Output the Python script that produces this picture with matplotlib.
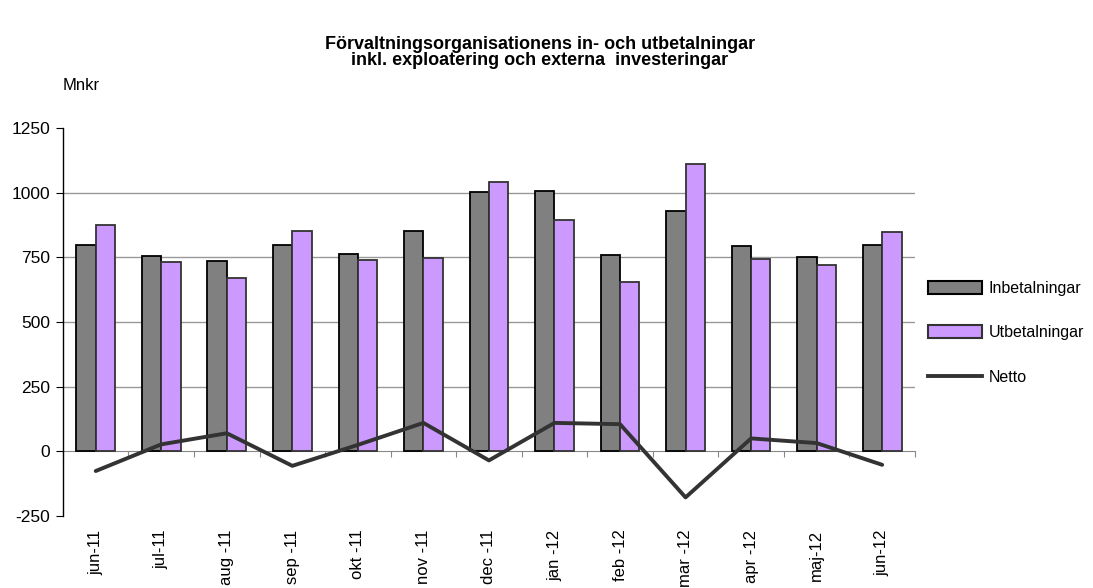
import numpy as np
import matplotlib
matplotlib.use("Agg")
import matplotlib.pyplot as plt
from matplotlib.patches import Patch
from matplotlib.lines import Line2D
import matplotlib.transforms as mtransforms

plt.rcParams['font.family'] = ['Liberation Sans', 'DejaVu Sans']
plt.rcParams['axes.unicode_minus'] = False

months = ["jun-11", "jul-11", "aug -11", "sep -11", "okt -11", "nov -11", "dec -11",
          "jan -12", "feb -12", "mar -12", "apr -12", "maj-12", "jun-12"]
inbetalningar = [799, 755, 737, 799, 764, 851, 1004, 1006, 760, 930, 792, 752, 796]
utbetalningar = [875, 730, 669, 853, 739, 746, 1042, 896, 655, 1111, 742, 720, 848]
netto = [-76, 27, 70, -56, 25, 110, -35, 110, 105, -178, 50, 32, -52]

fig = plt.figure(figsize=(10.93, 5.88), dpi=100)
ax = fig.add_axes([0.0576, 0.1224, 0.7795, 0.66])

x = np.arange(len(months))
w = 0.295
ax.bar(x - w/2, inbetalningar, w, color="#808080", edgecolor="black", linewidth=1.3, zorder=3)
ax.bar(x + w/2, utbetalningar, w, color="#cc99ff", edgecolor="#333333", linewidth=1.3, zorder=3)
ax.plot(x, netto, color="#333333", linewidth=2.8, zorder=4, solid_capstyle="round")

ax.set_xlim(-0.5, len(months) - 0.5)
ax.set_ylim(-250, 1250)
ax.set_yticks([-250, 0, 250, 500, 750, 1000, 1250])
for v in [250, 500, 750, 1000]:
    ax.axhline(v, color="#999999", linewidth=1, zorder=1)

for s in ["top", "right"]:
    ax.spines[s].set_visible(False)
ax.spines["left"].set_linewidth(1)
ax.spines["bottom"].set_position(("data", 0))
ax.spines["bottom"].set_color("#888888")
ax.spines["bottom"].set_zorder(2)

ax.set_xticks(np.arange(-0.5, len(months), 1.0))
ax.set_xticklabels([])
ax.tick_params(axis="x", direction="out", length=4, color="#888888")
ax.tick_params(axis="y", direction="out", length=5, labelsize=12.5, pad=4)

trans = mtransforms.blended_transform_factory(ax.transData, ax.transAxes)
for i, lab in enumerate(months):
    ax.text(i, -0.035, lab, transform=trans, rotation=90, ha="center", va="top", fontsize=12)

fig.text(0.494, 0.924, "Förvaltningsorganisationens in- och utbetalningar",
         ha="center", va="center", fontsize=13, fontweight="bold")
fig.text(0.494, 0.897, "inkl. exploatering och externa  investeringar",
         ha="center", va="center", fontsize=13, fontweight="bold")
fig.text(0.057, 0.855, "Mnkr", ha="left", va="center", fontsize=12)

handles = [Patch(facecolor="#808080", edgecolor="black", linewidth=1.5),
           Patch(facecolor="#cc99ff", edgecolor="#333333", linewidth=1.5),
           Line2D([0], [0], color="#333333", linewidth=2.8)]
fig.legend(handles, ["Inbetalningar", "Utbetalningar", "Netto"],
           loc="center left", bbox_to_anchor=(0.849, 0.434), frameon=False,
           fontsize=11.5, handlelength=3.4, handleheight=0.9, labelspacing=1.85,
           handletextpad=0.4, borderaxespad=0, borderpad=0)

fig.savefig("out.png", dpi=100)
